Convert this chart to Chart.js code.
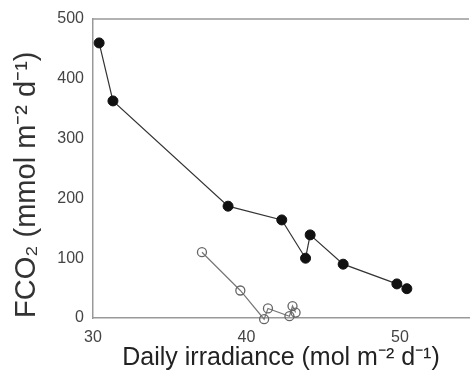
<!DOCTYPE html>
<html lang="en">
  <head>
    <meta charset="UTF-8" />
    <title>FCO2 vs irradiance</title>
    <script src="https://cdn.jsdelivr.net/npm/chart.js@4.4.0/dist/chart.umd.min.js"></script>
    <style>
      html, body { margin: 0; padding: 0; background: #fff; }
      #wrap { width: 475px; height: 379px; }
    </style>
  </head>
  <body>
    <div id="wrap"><canvas id="chart" width="475" height="379"></canvas></div>
    <script>
      // filled circles
      const filledX = [30.4, 31.3, 38.8, 42.3, 43.85, 44.15, 46.3, 49.8, 50.45];
      const filledY = [460, 363, 187, 164, 100, 139, 90, 57, 49];
      // open circles
      const openX = [37.1, 39.6, 41.15, 41.4, 42.8, 43.0, 43.2];
      const openY = [110, 46, -2, 16, 3, 20, 9];
      const xTicks = [30, 40, 50];
      const yTicks = [0, 100, 200, 300, 400, 500];

      const toPts = (xs, ys) => xs.map((x, i) => ({ x: x, y: ys[i] }));

      // top frame line
      const topLine = {
        id: "topLine",
        afterDraw(chart) {
          const { ctx, chartArea } = chart;
          ctx.save();
          ctx.strokeStyle = "#999";
          ctx.lineWidth = 1.5;
          ctx.beginPath();
          ctx.moveTo(chartArea.left, chartArea.top);
          ctx.lineTo(chartArea.right, chartArea.top);
          ctx.stroke();
          ctx.restore();
        }
      };

      const font = "Liberation Sans, Arial, Helvetica, sans-serif";

      new Chart(document.getElementById("chart"), {
        type: "scatter",
        data: {
          datasets: [
            {
              data: toPts(filledX, filledY),
              showLine: true,
              borderColor: "#333",
              borderWidth: 1.2,
              pointBackgroundColor: "#111",
              pointBorderColor: "#111",
              pointRadius: 5,
              pointBorderWidth: 1
            },
            {
              data: toPts(openX, openY),
              showLine: true,
              borderColor: "#777",
              borderWidth: 1.2,
              pointBackgroundColor: "rgba(255,255,255,0)",
              pointBorderColor: "#666",
              pointRadius: 4.5,
              pointBorderWidth: 1.3
            }
          ]
        },
        options: {
          responsive: false,
          animation: false,
          clip: false,
          layout: { padding: { top: 19, right: 0, left: 0, bottom: 0 } },
          plugins: { legend: { display: false }, tooltip: { enabled: false } },
          scales: {
            x: {
              type: "linear",
              min: 30,
              max: 54.5,
              afterBuildTicks: (axis) => { axis.ticks = xTicks.map(v => ({ value: v })); },
              afterFit: (axis) => { axis.height = 61; },
              grid: { display: false, drawTicks: false },
              border: { display: true, color: "#999", width: 1.5 },
              ticks: { color: "#444", font: { family: font, size: 16 }, padding: 10, maxRotation: 0 },
              title: {
                display: true,
                text: "Daily irradiance (mol m\u207B\u00B2 d\u207B\u00B9)",
                color: "#222",
                font: { family: font, size: 25 },
                padding: { top: 0, bottom: 6 }
              }
            },
            y: {
              type: "linear",
              min: 0,
              max: 500,
              afterBuildTicks: (axis) => { axis.ticks = yTicks.map(v => ({ value: v })); },
              afterFit: (axis) => { axis.width = 93; },
              grid: { display: false, drawTicks: false },
              border: { display: true, color: "#999", width: 1.5 },
              ticks: { color: "#444", font: { family: font, size: 16 }, padding: 9 },
              title: {
                display: true,
                align: "start",
                text: "FCO\u2082 (mmol m\u207B\u00B2 d\u207B\u00B9)",
                color: "#333",
                font: { family: font, size: 29 },
                padding: { top: 10, bottom: 0 }
              }
            }
          }
        },
        plugins: [topLine]
      });
    </script>
  </body>
</html>
